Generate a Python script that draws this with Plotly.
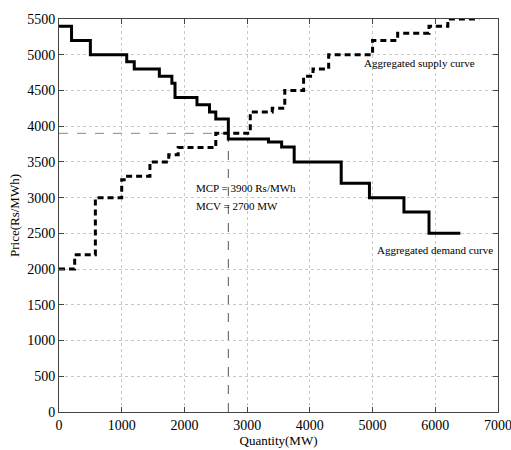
import plotly.graph_objects as go

# Aggregated supply curve (step starts, price holds until next quantity)
supply_q = [0, 250, 580, 1000, 1070, 1450, 1750, 1900, 2500, 3050, 3400, 3600,
            3900, 4050, 4300, 5000, 5400, 5900, 6200, 6700]
supply_p = [2000, 2200, 3000, 3250, 3300, 3500, 3600, 3700, 3900, 4200, 4250, 4500,
            4700, 4800, 5000, 5200, 5300, 5400, 5500, 5500]

# Aggregated demand curve
demand_q = [0, 200, 500, 1080, 1200, 1600, 1800, 1850, 2200, 2400, 2500, 2700,
            3340, 3550, 3750, 4500, 4950, 5500, 5900, 6400]
demand_p = [5400, 5200, 5000, 4900, 4800, 4700, 4600, 4400, 4300, 4200, 4100, 3820,
            3780, 3710, 3500, 3200, 3000, 2800, 2500, 2500]

MCP = 3900
MCV = 2700

x_ticks = [0, 1000, 2000, 3000, 4000, 5000, 6000, 7000]
y_ticks = [0, 500, 1000, 1500, 2000, 2500, 3000, 3500, 4000, 4500, 5000, 5500]

FONT = "Liberation Serif"

fig = go.Figure()

# MCP / MCV guide lines
fig.add_trace(go.Scatter(x=[0, MCV], y=[MCP, MCP], mode="lines",
                         line=dict(color="#888888", width=1, dash="dash"),
                         showlegend=False, hoverinfo="skip"))
fig.add_trace(go.Scatter(x=[MCV, MCV], y=[0, MCP], mode="lines",
                         line=dict(color="#555555", width=1, dash="dash"),
                         showlegend=False, hoverinfo="skip"))

fig.add_trace(go.Scatter(x=supply_q, y=supply_p, mode="lines", line_shape="hv",
                         line=dict(color="black", width=3, dash="6px,4px"),
                         name="Aggregated supply curve", showlegend=False))
fig.add_trace(go.Scatter(x=demand_q, y=demand_p, mode="lines", line_shape="hv",
                         line=dict(color="black", width=3),
                         name="Aggregated demand curve", showlegend=False))

ann_font = dict(family=FONT, size=11, color="black")
fig.add_annotation(x=2160, y=3130, text="MCP = 3900 Rs/MWh", showarrow=False,
                   xanchor="left", yanchor="middle", font=ann_font)
fig.add_annotation(x=2160, y=2890, text="MCV = 2700 MW", showarrow=False,
                   xanchor="left", yanchor="middle", font=ann_font)
fig.add_annotation(x=4830, y=4890, text="Aggregated supply curve", showarrow=False,
                   xanchor="left", yanchor="middle", font=ann_font)
fig.add_annotation(x=5040, y=2270, text="Aggregated demand curve", showarrow=False,
                   xanchor="left", yanchor="middle", font=ann_font)

axis_common = dict(showline=True, linecolor="#444444", linewidth=1, mirror="allticks",
                   ticks="inside", ticklen=5, tickcolor="#444444",
                   showgrid=True, gridcolor="#c8c8c8", griddash="dot", gridwidth=1,
                   zeroline=False, automargin=False, ticklabeloverflow="allow",
                   tickfont=dict(family=FONT, size=14, color="black"))

fig.update_xaxes(range=[0, 7000], tickvals=x_ticks, ticktext=[str(v) for v in x_ticks],
                 title=dict(text="Quantity(MW)", font=dict(family=FONT, size=13, color="black"),
                            standoff=0), **axis_common)
fig.update_yaxes(range=[0, 5500], tickvals=y_ticks, ticktext=[str(v) for v in y_ticks],
                 title=dict(text="Price(Rs/MWh)", font=dict(family=FONT, size=13, color="black"),
                            standoff=4), **axis_common)

fig.update_layout(width=511, height=450, margin=dict(l=59, r=13, t=19, b=38),
                  plot_bgcolor="white", paper_bgcolor="white", showlegend=False)

fig.write_html("out.html")
